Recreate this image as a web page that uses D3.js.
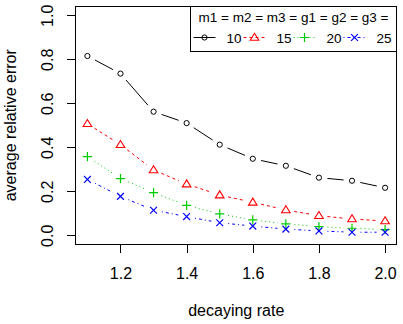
<!DOCTYPE html>
<html><head><meta charset="utf-8">
<script src="https://cdn.jsdelivr.net/npm/d3@7"></script>
<style>
html,body{margin:0;padding:0;background:#fff;}
svg{display:block;font-family:"Liberation Sans",Arial,sans-serif;}
</style></head>
<body><svg id="c" width="403" height="324"></svg>
<script>
const decay = [1.1,1.2,1.3,1.4,1.5,1.6,1.7,1.8,1.9,2.0];
const err10 = [0.815,0.735,0.562,0.510,0.412,0.348,0.316,0.262,0.248,0.216];
const err15 = [0.507,0.412,0.297,0.233,0.183,0.150,0.115,0.089,0.074,0.065];
const err20 = [0.358,0.258,0.194,0.136,0.097,0.070,0.052,0.039,0.032,0.026];
const err25 = [0.254,0.177,0.114,0.085,0.057,0.042,0.028,0.020,0.014,0.014];
const seriesNames = ["10","15","20","25"];
const xTicks = [1.2,1.4,1.6,1.8,2.0];
const yTicks = [0.0,0.2,0.4,0.6,0.8,1.0];
const legendTitle = "m1 = m2 = m3 = g1 = g2 = g3 =";
const xTitle = "decaying rate";
const yTitle = "average relative error";

const svg = d3.select("#c");
const L=75.5, R=396.5, T=6.5, B=244;
const x = d3.scaleLinear().domain([1.064,2.036]).range([75.5,397]);
const y = d3.scaleLinear().domain([-0.04,1.04]).range([244.1,6.5]);

const styles = [
  {name:seriesNames[0], vals:err10, color:"#000000", dash:null, shape:"circle"},
  {name:seriesNames[1], vals:err15, color:"#ff0000", dash:"3,3", shape:"triangle"},
  {name:seriesNames[2], vals:err20, color:"#00cd00", dash:"1,3", shape:"plus"},
  {name:seriesNames[3], vals:err25, color:"#0000ff", dash:"1,3,3,3", shape:"cross"}
];

function marker(g, shape, cx, cy, color){
  if(shape==="circle"){
    g.append("circle").attr("cx",cx).attr("cy",cy).attr("r",2.6)
      .attr("fill","none").attr("stroke",color).attr("stroke-width",1);
  } else if(shape==="triangle"){
    const h=7, w=8.6;
    g.append("path").attr("d",`M${cx},${cy-h*0.6}L${cx+w/2},${cy+h*0.4}L${cx-w/2},${cy+h*0.4}Z`)
      .attr("fill","none").attr("stroke",color).attr("stroke-width",1.1);
  } else if(shape==="plus"){
    const a=4.6;
    g.append("path").attr("d",`M${cx-a},${cy}H${cx+a}M${cx},${cy-a}V${cy+a}`)
      .attr("fill","none").attr("stroke",color).attr("stroke-width",1.2);
  } else {
    const a=3.4;
    g.append("path").attr("d",`M${cx-a},${cy-a}L${cx+a},${cy+a}M${cx-a},${cy+a}L${cx+a},${cy-a}`)
      .attr("fill","none").attr("stroke",color).attr("stroke-width",1.2);
  }
}

// axes
const fs = 16;
const xa = svg.append("g").attr("transform",`translate(0,${B})`)
  .call(d3.axisBottom(x).tickValues(xTicks).tickFormat(d3.format(".1f")).tickSize(8.5).tickSizeOuter(0).tickPadding(3));
xa.select(".domain").remove();
xa.selectAll("line").attr("stroke","#000").attr("shape-rendering","crispEdges");
xa.selectAll("text").attr("font-size",fs).attr("fill","#000").attr("font-family","Liberation Sans, Arial, sans-serif")
  .attr("y",null).attr("dy",null).attr("transform","translate(0,35)");

const ya = svg.append("g").attr("transform",`translate(${L},0)`)
  .call(d3.axisLeft(y).tickValues(yTicks).tickFormat(d3.format(".1f")).tickSize(9).tickSizeOuter(0));
ya.select(".domain").remove();
ya.selectAll("line").attr("stroke","#000").attr("shape-rendering","crispEdges");
ya.selectAll("text").attr("font-size",fs).attr("fill","#000").attr("font-family","Liberation Sans, Arial, sans-serif")
  .attr("x",null).attr("dy",null).attr("text-anchor","middle")
  .attr("transform","translate(-23,0) rotate(-90)");

// box
svg.append("rect").attr("x",L).attr("y",T).attr("width",R-L).attr("height",B-T)
  .attr("fill","none").attr("stroke","#000").attr("shape-rendering","crispEdges");

// titles
svg.append("text").attr("x",(x(1.064)+x(2.036))/2).attr("y",316).attr("text-anchor","middle")
  .attr("font-size",fs).text(xTitle);
svg.append("text").attr("transform",`translate(16,${(T+B)/2}) rotate(-90)`).attr("text-anchor","middle")
  .attr("font-size",fs).text(yTitle);

// series, R type "b"
const gap = 8.5;
styles.forEach(s=>{
  const g = svg.append("g");
  const pts = decay.map((d,i)=>[x(d), y(s.vals[i])]);
  for(let i=0;i<pts.length-1;i++){
    const [x0,y0]=pts[i],[x1,y1]=pts[i+1];
    const len=Math.hypot(x1-x0,y1-y0);
    if(len<=2*gap) continue;
    const ux=(x1-x0)/len, uy=(y1-y0)/len;
    const line = g.append("line").attr("x1",x0+ux*gap).attr("y1",y0+uy*gap)
      .attr("x2",x1-ux*gap).attr("y2",y1-uy*gap).attr("stroke",s.color).attr("stroke-width",1);
    if(s.dash) line.attr("stroke-dasharray",s.dash);
  }
  pts.forEach(p=>marker(g,s.shape,p[0],p[1],s.color));
});

// legend
const lg = svg.append("g");
lg.append("rect").attr("x",190.5).attr("y",T).attr("width",R-190.5).attr("height",51-T)
  .attr("fill","#fff").attr("stroke","#000").attr("shape-rendering","crispEdges");
lg.append("text").attr("x",(190.5+R)/2).attr("y",22).attr("text-anchor","middle")
  .attr("font-size",13.5).text(legendTitle);
styles.forEach((s,i)=>{
  const x0 = 193.5 + i*50;
  const ly = 37.5;
  const ln = lg.append("line").attr("x1",x0).attr("x2",x0+22).attr("y1",ly).attr("y2",ly)
    .attr("stroke",s.color).attr("stroke-width",1);
  if(s.dash) ln.attr("stroke-dasharray",s.dash);
  marker(lg,s.shape,x0+11,ly,s.color);
  lg.append("text").attr("x",x0+33).attr("y",42.5).attr("font-size",13.5).text(s.name);
});
</script></body></html>
